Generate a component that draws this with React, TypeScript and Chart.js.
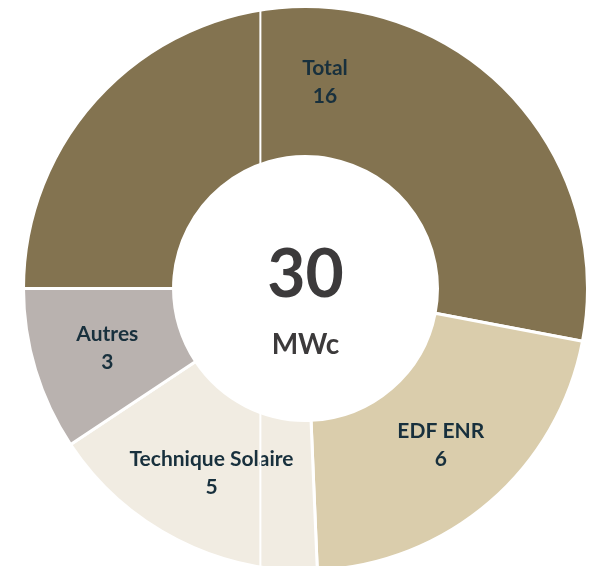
import React, { useEffect, useRef } from "react";
import { Chart, registerables } from "chart.js";

Chart.register(...registerables);

const categories = ["Total", "EDF ENR", "Technique Solaire", "Autres"];
const values = [15.9, 6.4, 4.9, 2.8];
const colors = ["#837350", "#dacdac", "#f1ece2", "#b9b2af"];
const unitLabel = "MWc";

const FONT = "Lato, 'Noto Sans', sans-serif";

const sliceLabels = {
  id: "sliceLabels",
  afterDatasetsDraw(chart: any) {
    const ctx = chart.ctx;
    const meta = chart.getDatasetMeta(0);
    ctx.save();
    ctx.fillStyle = "#18303d";
    ctx.textAlign = "center";
    ctx.textBaseline = "middle";
    ctx.font = `bold 21px ${FONT}`;
    meta.data.forEach((arc: any, i: number) => {
      const p = arc.tooltipPosition();
      ctx.fillText(categories[i], p.x, p.y - 14);
      ctx.fillText(String(Math.round(values[i])), p.x, p.y + 14);
    });
    ctx.restore();
  },
};

const centerText = {
  id: "centerText",
  afterDatasetsDraw(chart: any) {
    const ctx = chart.ctx;
    const arc = chart.getDatasetMeta(0).data[0];
    if (!arc) return;
    const { x, y, outerRadius, innerRadius } = arc.getProps(["x", "y", "outerRadius", "innerRadius"], true);
    ctx.save();
    // thin white separators through the ring
    ctx.strokeStyle = "#ffffff";
    ctx.lineWidth = 2;
    const lx = x - outerRadius * 0.16;
    const dx = lx - x;
    const oy = Math.sqrt(outerRadius * outerRadius - dx * dx);
    const iy = Math.sqrt(innerRadius * innerRadius - dx * dx);
    ctx.beginPath();
    ctx.moveTo(lx, y - oy);
    ctx.lineTo(lx, y - iy);
    ctx.moveTo(lx, y + iy);
    ctx.lineTo(lx, y + oy);
    ctx.stroke();

    const total = Math.round(values.reduce((a, b) => a + b, 0));
    ctx.fillStyle = "#3c3a3b";
    ctx.textAlign = "center";
    ctx.textBaseline = "alphabetic";
    ctx.font = `bold 66px ${FONT}`;
    ctx.fillText(String(total), x, y + 8);
    ctx.font = `bold 28px ${FONT}`;
    ctx.fillText(unitLabel, x, y + 65);
    ctx.restore();
  },
};

export default function App() {
  const ref = useRef<HTMLCanvasElement | null>(null);
  useEffect(() => {
    if (!ref.current) return;
    const chart = new Chart(ref.current, {
      type: "doughnut",
      data: {
        labels: categories,
        datasets: [
          {
            data: values,
            backgroundColor: colors,
            borderColor: "#ffffff",
            borderWidth: 3,
            hoverOffset: 0,
          },
        ],
      },
      options: {
        responsive: false,
        animation: false,
        rotation: -90,
        cutout: "46.8%",
        plugins: {
          legend: { display: false },
          tooltip: { enabled: false },
        },
      },
      plugins: [sliceLabels, centerText],
    });
    return () => chart.destroy();
  }, []);
  return (
    <div
      style={{
        position: "fixed",
        left: 0,
        top: 0,
        width: 591,
        height: 566,
        overflow: "hidden",
        background: "#ffffff",
      }}
    >
      <div style={{ position: "absolute", left: 22, top: 5, width: 567, height: 567 }}>
        <canvas ref={ref} width={567} height={567} />
      </div>
    </div>
  );
}
